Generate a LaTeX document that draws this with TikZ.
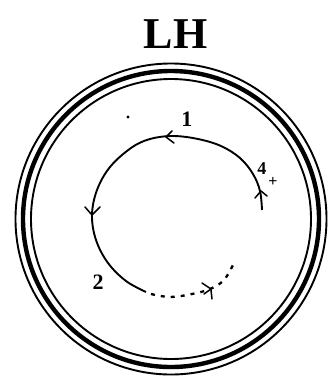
\documentclass[tikz,border=0pt]{standalone}
\usepackage{fontspec}
\setmainfont{Liberation Serif}
\begin{document}
\begin{tikzpicture}[x=1pt,y=-1pt,
  ringthin/.style={line width=1.9pt},
  ringthick/.style={line width=4.4pt},
  flow/.style={line width=1.9pt},
  barb/.style={line width=1.5pt, line cap=round, line join=round},
  lbl/.style={font=\fontsize{22}{22}\selectfont\bfseries, inner sep=0pt}]
\useasboundingbox (0,0) rectangle (328,376);
% title
\node[inner sep=0pt, font=\fontsize{44}{44}\selectfont\bfseries] (title) at (175.5,34) {LH};
% rings
\coordinate (c) at (171,219);
\draw[ringthin] (c) circle[radius=155.5];
\draw[ringthick] (c) circle[radius=148];
\draw[ringthin] (c) circle[radius=140];
% main solid arc
\draw[flow] plot[smooth, tension=0.6] coordinates {
  (262,210) (260,191) (253,174) (240,158) (221,146) (198,139) (173,136)
  (150,139) (131,148) (110,167) (97,190) (92,215) (96,240) (108,263)
  (126,281) (146,292)};
% dotted return
\draw[flow, line width=2.3pt, dash pattern=on 4pt off 6pt] plot[smooth, tension=0.6] coordinates {
  (151,294) (170,297) (192,294) (210,289) (224,280) (234,263)};
% arrowheads
\draw[barb] (172,131) -- (166,137) -- (174,143);
\draw[barb] (85,207) -- (92,215) -- (100,207);
\draw[barb] (255,198) -- (261,191) -- (267,196);
\draw[barb] (202,283) -- (211,289) -- (204,294);
\draw[barb] (211,290) -- (212,299);
% labels
\node[lbl] (l1) at (187,119) {1};
\node[lbl] (l2) at (98,282) {2};
\node[lbl, font=\fontsize{18}{18}\selectfont\bfseries] (l4) at (262,169) {4};
\node[inner sep=0pt, font=\fontsize{16}{16}\selectfont\bfseries] (plus) at (273,182) {+};
% dot
\fill (128,117) circle[radius=1.6];
\end{tikzpicture}
\end{document}
